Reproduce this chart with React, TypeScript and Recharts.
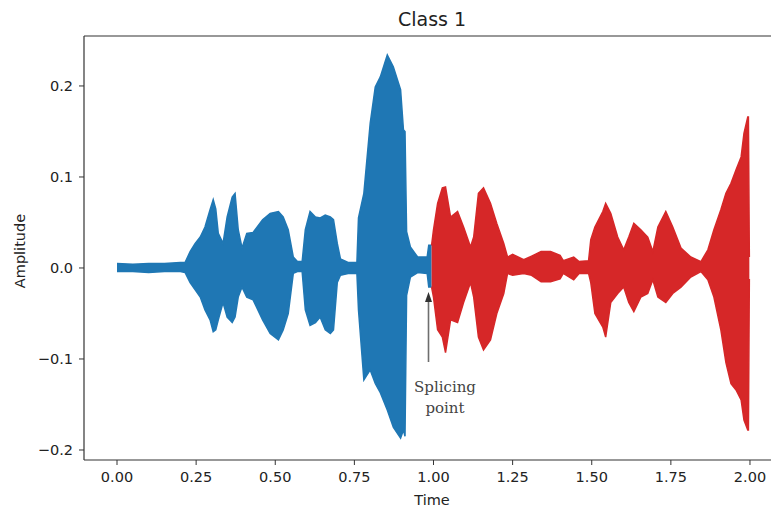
import { ComposedChart, Area, XAxis, YAxis, ReferenceLine, Customized } from 'recharts'

// envelope of the waveform (time in s, amplitude)
const blueT = [0.0, 0.05, 0.1, 0.15, 0.2, 0.215, 0.231, 0.247, 0.263, 0.278, 0.294, 0.304, 0.312, 0.32, 0.335, 0.348, 0.364, 0.373, 0.383, 0.395, 0.41, 0.43, 0.46, 0.484, 0.51, 0.525, 0.541, 0.557, 0.57, 0.585, 0.595, 0.61, 0.627, 0.642, 0.658, 0.674, 0.684, 0.696, 0.706, 0.73, 0.758, 0.763, 0.78, 0.8, 0.816, 0.832, 0.854, 0.873, 0.896, 0.905, 0.91, 0.915, 0.927, 0.95, 0.98, 0.985, 0.994]
const blueHi = [0.005, 0.004, 0.005, 0.005, 0.006, 0.006, 0.018, 0.027, 0.034, 0.045, 0.064, 0.075, 0.065, 0.038, 0.027, 0.056, 0.078, 0.082, 0.042, 0.022, 0.038, 0.039, 0.053, 0.06, 0.062, 0.056, 0.042, 0.012, 0.007, 0.007, 0.042, 0.062, 0.056, 0.055, 0.058, 0.056, 0.053, 0.027, 0.01, 0.006, 0.006, 0.055, 0.082, 0.159, 0.199, 0.21, 0.234, 0.221, 0.196, 0.152, 0.15, 0.04, 0.023, 0.012, 0.012, 0.025, 0.025]
const blueLo = [-0.004, -0.004, -0.005, -0.004, -0.004, -0.005, -0.016, -0.024, -0.032, -0.046, -0.057, -0.07, -0.068, -0.057, -0.038, -0.054, -0.06, -0.054, -0.032, -0.021, -0.032, -0.035, -0.057, -0.072, -0.079, -0.068, -0.05, -0.006, -0.004, -0.004, -0.046, -0.063, -0.06, -0.054, -0.068, -0.072, -0.068, -0.016, -0.008, -0.006, -0.006, -0.046, -0.123, -0.112, -0.127, -0.137, -0.156, -0.175, -0.187, -0.178, -0.185, -0.03, -0.01, -0.005, -0.006, -0.021, -0.021]

const redT = [0.994, 1.0, 1.013, 1.028, 1.038, 1.054, 1.076, 1.095, 1.117, 1.127, 1.142, 1.158, 1.18, 1.2, 1.222, 1.234, 1.25, 1.285, 1.31, 1.34, 1.37, 1.4, 1.41, 1.443, 1.46, 1.49, 1.497, 1.51, 1.535, 1.544, 1.56, 1.582, 1.601, 1.617, 1.633, 1.655, 1.677, 1.693, 1.709, 1.734, 1.756, 1.782, 1.813, 1.845, 1.867, 1.886, 1.908, 1.924, 1.94, 1.956, 1.972, 1.981, 1.993, 1.995, 1.998]
const redHi = [0.025, 0.042, 0.071, 0.088, 0.089, 0.056, 0.062, 0.045, 0.023, 0.034, 0.082, 0.088, 0.071, 0.049, 0.027, 0.012, 0.015, 0.009, 0.013, 0.018, 0.018, 0.014, 0.008, 0.012, 0.007, 0.008, 0.031, 0.045, 0.062, 0.071, 0.06, 0.034, 0.02, 0.034, 0.049, 0.042, 0.034, 0.018, 0.045, 0.062, 0.045, 0.022, 0.012, 0.007, 0.02, 0.042, 0.064, 0.082, 0.093, 0.108, 0.122, 0.148, 0.166, 0.166, 0.012]
const redLo = [-0.021, -0.032, -0.068, -0.076, -0.093, -0.057, -0.06, -0.038, -0.016, -0.032, -0.076, -0.09, -0.079, -0.05, -0.028, -0.006, -0.008, -0.006, -0.008, -0.015, -0.015, -0.012, -0.006, -0.013, -0.006, -0.006, -0.016, -0.05, -0.065, -0.076, -0.038, -0.028, -0.021, -0.038, -0.048, -0.032, -0.028, -0.013, -0.032, -0.038, -0.028, -0.021, -0.01, -0.004, -0.013, -0.032, -0.068, -0.104, -0.127, -0.134, -0.145, -0.167, -0.178, -0.178, -0.012]

const xTicks = [0, 0.25, 0.5, 0.75, 1.0, 1.25, 1.5, 1.75, 2.0]
const yTicks = [-0.2, -0.1, 0.0, 0.1, 0.2]

const X_DOMAIN: [number, number] = [-0.1043, 2.098]
const Y_DOMAIN: [number, number] = [-0.211, 0.2549]

type Row = { t: number; blue?: [number, number]; red?: [number, number] }

const rows: Row[] = []
blueT.forEach((t, i) => rows.push({ t, blue: [blueLo[i], blueHi[i]] }))
redT.forEach((t, i) => {
  const same = rows.find((r) => r.t === t)
  if (same) same.red = [redLo[i], redHi[i]]
  else rows.push({ t, red: [redLo[i], redHi[i]] })
})
rows.sort((a, b) => a.t - b.t)

const FONT = '"DejaVu Sans", sans-serif'
const AXIS = '#333'
const tickStyle = { fontFamily: FONT, fontSize: 14.5, fill: '#222' }

const fmtY = (v: number) => (v < 0 ? '\u2212' + Math.abs(v).toFixed(1) : v.toFixed(1))

function Decor() {
  return (
    <g>
      <text x={432} y={26} textAnchor="middle" fontFamily={FONT} fontSize={19} fill="#222">Class 1</text>
      <text x={432} y={505} textAnchor="middle" fontFamily={FONT} fontSize={14.5} fill="#222">Time</text>
      <text x={25} y={251} textAnchor="middle" fontFamily={FONT} fontSize={14.5} fill="#222"
        transform="rotate(-90 25 251)">Amplitude</text>
      <line x1={428.5} y1={362} x2={428.5} y2={300} stroke="#555" strokeWidth={1.6} strokeOpacity={0.85} />
      <polygon points="428.5,292 425,302 432,302" fill="#333" />
      <text x={445} y={392} textAnchor="middle" fontFamily='"DejaVu Serif", serif' fontSize={15} fill="#444">Splicing</text>
      <text x={445} y={413} textAnchor="middle" fontFamily='"DejaVu Serif", serif' fontSize={15} fill="#444">point</text>
    </g>
  )
}

export default function App() {
  return (
    <div style={{ position: 'absolute', left: 0, top: 0, width: 771, height: 507, overflow: 'hidden', background: '#fff' }}>
      <ComposedChart width={781} height={507} data={rows} margin={{ top: 36, right: 0, bottom: 0, left: 0 }}>
        <XAxis
          dataKey="t"
          type="number"
          domain={X_DOMAIN}
          ticks={xTicks}
          tickFormatter={(v: number) => v.toFixed(2)}
          height={47}
          tickSize={5}
          tickMargin={7}
          tick={tickStyle}
          axisLine={{ stroke: AXIS, strokeWidth: 1.2 }}
          tickLine={{ stroke: AXIS }}
          allowDataOverflow
        />
        <YAxis
          type="number"
          domain={Y_DOMAIN}
          ticks={yTicks}
          tickFormatter={fmtY}
          width={84}
          tickSize={5}
          tickMargin={6}
          tick={tickStyle}
          axisLine={{ stroke: AXIS, strokeWidth: 1.2 }}
          tickLine={{ stroke: AXIS }}
          allowDataOverflow
        />
        <ReferenceLine y={Y_DOMAIN[1]} stroke={AXIS} strokeWidth={1.2} ifOverflow="extendDomain" />
        <Area dataKey="blue" type="linear" stroke="#1f77b4" strokeWidth={1.5} fill="#1f77b4" fillOpacity={1}
          isAnimationActive={false} dot={false} activeDot={false} connectNulls={false} />
        <Area dataKey="red" type="linear" stroke="#d62728" strokeWidth={1.5} fill="#d62728" fillOpacity={1}
          isAnimationActive={false} dot={false} activeDot={false} connectNulls={false} />
        <Customized component={<Decor />} />
      </ComposedChart>
    </div>
  )
}
